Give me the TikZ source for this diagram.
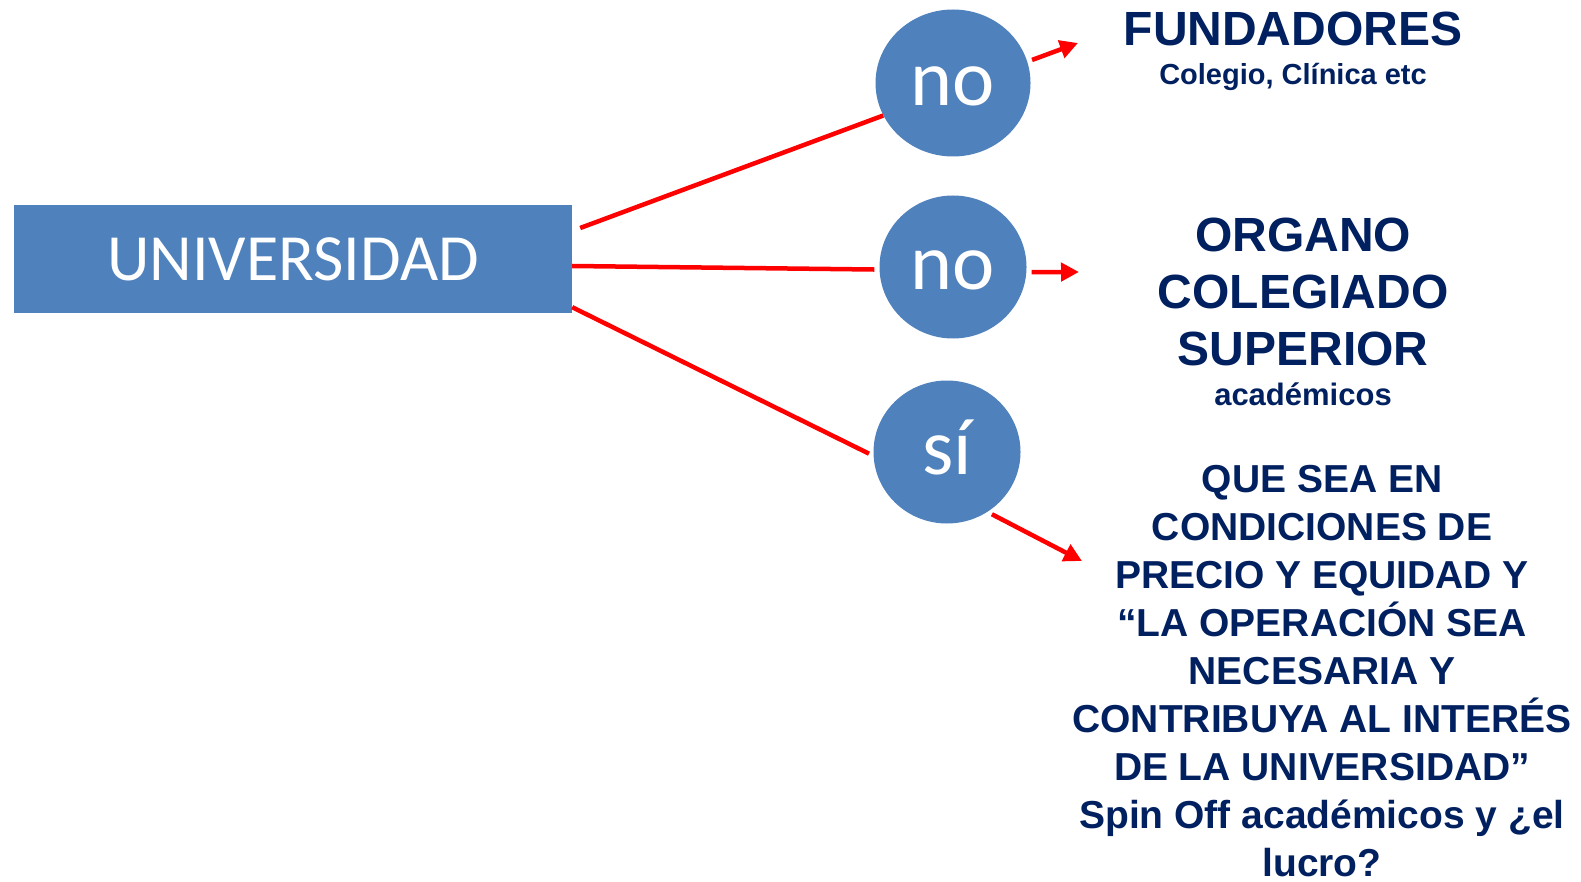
\documentclass[tikz,border=0pt]{standalone}
\usepackage{fontspec}
\setmainfont{Liberation Sans}
\newfontfamily\calib{Carlito}
\usetikzlibrary{shapes.geometric,arrows.meta}
\definecolor{boxblue}{HTML}{4F81BD}
\definecolor{navy}{HTML}{002060}
\definecolor{lred}{HTML}{FF0000}
\begin{document}
\begin{tikzpicture}[x=1pt,y=-1pt,
  univbox/.style={rectangle, fill=boxblue, inner sep=0pt, text=white,
    font=\calib\fontsize{66}{79}\selectfont},
  dot/.style={ellipse, fill=boxblue, inner sep=0pt, text=white,
    text height=45pt, text depth=0pt, font=\calib\fontsize{80}{96}\selectfont},
  conn/.style={draw=lred, line width=4.5pt},
  arr/.style={draw=lred, line width=4.5pt, -{Triangle[length=18pt,width=18pt]}, shorten <=5pt},
  lbl/.style={text=navy, inner sep=0pt, anchor=base, align=center},
  big/.style={lbl, font=\bfseries\fontsize{48}{57}\selectfont},
  small/.style={lbl, font=\bfseries\fontsize{30}{36}\selectfont},
  mid/.style={lbl, font=\bfseries\fontsize{39}{48}\selectfont}]
\fill[white] (0,0) rectangle (1581,882);
\useasboundingbox (0,0) rectangle (1581,882);

\node[univbox, minimum width=558pt, minimum height=108pt] (univ) at (293,259) {UNIVERSIDAD};

\node[dot, minimum width=155pt, minimum height=147pt] (no1) at (953,83) {no};
\node[dot, minimum width=147pt, minimum height=143pt] (no2) at (953,267) {no};
\node[dot, minimum width=147pt, minimum height=143pt] (si) at (947,452) {sí};

\draw[conn] ([xshift=8pt,yshift=31pt]univ.east) -- (no1.205);
\draw[conn, shorten >=5pt] ([yshift=-7pt]univ.east) -- (no2.182);
\draw[conn, shorten >=5pt] ([yshift=6pt]univ.south east) -- (si.183);

\coordinate (t1) at (1078,43);
\coordinate (t2) at (1079,272);
\coordinate (t3) at (1082,561);
\draw[arr] (no1.16) -- (t1);
\draw[arr] (no2.-4) -- (t2);
\draw[arr] (si.-56) -- (t3);

\node[big] (fund) at (1293,46) {FUNDADORES};
\node[small, font=\bfseries\fontsize{29}{35}\selectfont] (fundsub) at (1293,85) {Colegio, Clínica etc};
\node[big] (org) at (1303,365) {ORGANO\\COLEGIADO\\SUPERIOR};
\node[small, font=\bfseries\fontsize{31}{37}\selectfont] (orgsub) at (1303,405) {académicos};
\node[mid] (cond) at (1322,876) {QUE SEA EN\\CONDICIONES DE\\PRECIO Y EQUIDAD Y\\“LA OPERACIÓN SEA\\NECESARIA Y\\CONTRIBUYA AL INTERÉS\\DE LA UNIVERSIDAD”\\Spin Off académicos y ¿el\\lucro?};
\end{tikzpicture}
\end{document}
